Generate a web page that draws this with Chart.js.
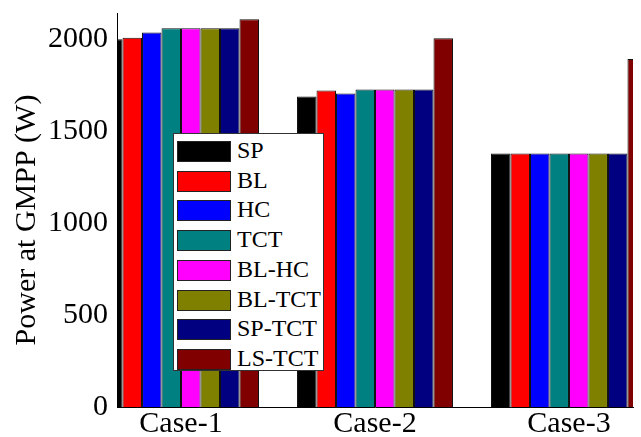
<!DOCTYPE html>
<html>
<head>
<meta charset="utf-8">
<script src="https://cdn.jsdelivr.net/npm/chart.js@4/dist/chart.umd.min.js"></script>
<style>
  html, body { margin: 0; padding: 0; background: #fff; }
  #wrap { position: relative; width: 641px; height: 437px; }
  #legend {
    position: absolute; left: 173px; top: 133px; width: 151px; height: 238px;
    background: #fff; border: 1px solid #333; box-sizing: border-box;
    font-family: 'Liberation Serif', 'Times New Roman', serif; font-size: 24px; color: #000;
  }
  #legend .row { position: absolute; left: 3px; height: 20px; }
  #legend .sw { position: absolute; left: 0; top: 0; width: 52px; height: 19px; border: 1px solid #222; }
  #legend .lb { position: absolute; left: 60px; top: -4px; line-height: 26px; white-space: nowrap; }
</style>
</head>
<body>
<div id="wrap">
  <canvas id="myChart" width="641" height="437"></canvas>
  <div id="legend"></div>
</div>
<script>
const categories = ['Case-1', 'Case-2', 'Case-3'];
const groupPos = [1, 2, 3];
const yTicks = [0, 500, 1000, 1500, 2000];

const sp    = [1997, 1686, 1377];
const bl    = [2006, 1719, 1377];
const hc    = [2034, 1703, 1377];
const tct   = [2057, 1724, 1377];
const blHc  = [2057, 1724, 1377];
const blTct = [2057, 1724, 1377];
const spTct = [2057, 1724, 1377];
const lsTct = [2106, 2003, 1890];

const seriesNames  = ['SP', 'BL', 'HC', 'TCT', 'BL-HC', 'BL-TCT', 'SP-TCT', 'LS-TCT'];
const seriesValues = [sp, bl, hc, tct, blHc, blTct, spTct, lsTct];
const seriesColors = ['#000000', '#ff0000', '#0000ff', '#008080', '#ff00ff', '#808000', '#000080', '#800000'];

const yTitle = 'Power at GMPP (W)';
const serif = "'Liberation Serif', 'Times New Roman', serif";

const datasets = seriesNames.map((name, i) => ({
    label: name,
    data: seriesValues[i].map((v, j) => ({ x: groupPos[j], y: v })),
    backgroundColor: seriesColors[i],
    borderColor: '#111',
    borderWidth: 1,
    categoryPercentage: 0.804,
    barPercentage: 1.0,
}));

// y axis title drawn by hand so it can sit where the original one is
const yTitlePlugin = {
    id: 'yTitle',
    afterDraw(chart) {
        const c = chart.ctx;
        c.save();
        c.translate(27, 220);
        c.rotate(-Math.PI / 2);
        c.fillStyle = '#000';
        c.font = '30px ' + serif;
        c.textAlign = 'center';
        c.textBaseline = 'middle';
        c.fillText(yTitle, 0, 0);
        c.restore();
    }
};

const ctx = document.getElementById('myChart').getContext('2d');
const myChart = new Chart(ctx, {
    type: 'bar',
    data: { datasets: datasets },
    plugins: [yTitlePlugin],
    options: {
        responsive: false,
        animation: false,
        devicePixelRatio: 1,
        layout: { padding: { top: 13, right: 8, bottom: 0, left: 0 } },
        plugins: {
            legend: { display: false },
            tooltip: { enabled: false },
        },
        scales: {
            x: {
                type: 'linear',
                offset: false,
                bounds: 'data',
                min: 0.67,
                max: 3.33,
                grid: { display: false, drawTicks: false, offset: false },
                border: { display: true, color: '#000', width: 1 },
                afterBuildTicks: (scale) => { scale.ticks = groupPos.map(v => ({ value: v })); },
                afterFit: (scale) => { scale.height = 30; scale.paddingLeft = 0; scale.paddingRight = 0; },
                ticks: {
                    autoSkip: false,
                    maxRotation: 0,
                    padding: 2,
                    color: '#000',
                    font: { family: serif, size: 30, lineHeight: 1 },
                    callback: (value) => categories[groupPos.indexOf(value)],
                },
            },
            y: {
                min: 0,
                max: 2140,
                grid: { display: false, drawTicks: false },
                border: { display: true, color: '#000', width: 1 },
                afterBuildTicks: (scale) => { scale.ticks = yTicks.map(v => ({ value: v })); },
                afterFit: (scale) => { scale.width = 117; scale.paddingTop = 0; scale.paddingBottom = 0; },
                ticks: {
                    padding: 9,
                    color: '#000',
                    font: { family: serif, size: 30, lineHeight: 1 },
                    callback: (value) => String(value),
                },
            },
        },
    },
});

// legend box drawn over the plot
const legendEl = document.getElementById('legend');
myChart.data.datasets.forEach((ds, i) => {
    const row = document.createElement('div');
    row.className = 'row';
    row.style.top = (7 + i * 29.7) + 'px';
    const sw = document.createElement('div');
    sw.className = 'sw';
    sw.style.background = ds.backgroundColor;
    const lb = document.createElement('div');
    lb.className = 'lb';
    lb.textContent = ds.label;
    row.appendChild(sw);
    row.appendChild(lb);
    legendEl.appendChild(row);
});
</script>
</body>
</html>
